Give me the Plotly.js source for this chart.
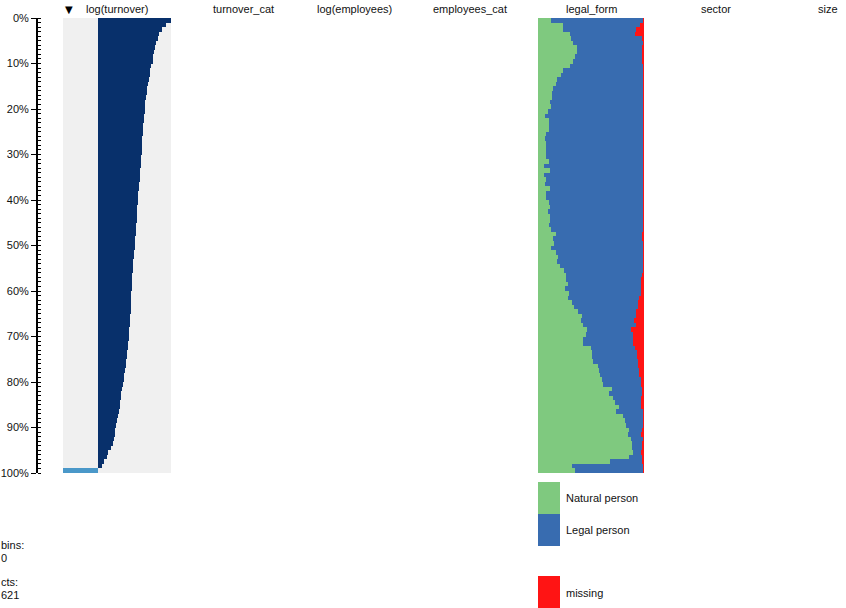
<!DOCTYPE html>
<html>
<head>
<meta charset="utf-8">
<script src="https://cdn.plot.ly/plotly-3.0.1.min.js"></script>
<style>html,body{margin:0;padding:0;background:#fff;}#chart{width:846px;height:608px;}</style>
</head>
<body>
<div id="chart"></div>
<script>
// ---- data (100 row bins, sorted by log(turnover)) ----
var binIndex = [];
for (var k = 1; k <= 100; k++) binIndex.push(k - 0.5);

var logTurnover = [7.30,6.77,6.37,6.10,5.95,5.83,5.72,5.62,5.53,5.45,
  5.32,5.23,5.15,5.06,4.99,4.92,4.85,4.79,4.74,4.69,
  4.65,4.61,4.57,4.53,4.50,4.47,4.44,4.41,4.38,4.35,
  4.32,4.29,4.26,4.23,4.20,4.16,4.12,4.08,4.04,4.00,
  3.97,3.94,3.91,3.88,3.85,3.82,3.79,3.76,3.73,3.70,
  3.66,3.62,3.58,3.54,3.50,3.47,3.44,3.41,3.38,3.35,
  3.33,3.31,3.29,3.27,3.25,3.22,3.19,3.16,3.13,3.10,
  3.06,3.01,2.96,2.92,2.87,2.81,2.75,2.68,2.62,2.55,
  2.48,2.41,2.33,2.27,2.21,2.15,2.08,2.00,1.90,1.80,
  1.74,1.68,1.57,1.45,1.30,1.00,0.85,0.60,0.37,-3.5];

var legalNatural = [12,23.6,24,30,31,33,36.5,37,35,33,
  30,24,22,17.6,17,14,13,13,11,12,
  9,6.6,10,10,10.4,8,6.6,8,7.5,8,
  7.5,10,5.7,11,5.7,8,6.6,11,7.5,7.5,
  10,11,9.6,11,11,10,12,17,14,15,
  12,17,19,18,21,24.5,26.4,26,28.6,25.5,
  29,28,31.8,34,37.4,41.8,41,42,46,45,
  42.7,42.7,50,51,50.6,51.6,57,57.8,58.5,60.4,
  61.6,69.5,67,70.4,72.6,76,74,80,82.4,83,
  85.5,84.6,87.7,88.4,88.4,89.3,85.8,68,32,35];

var legalMissing = [0.5,3.8,7.5,8.5,2,1,2,1.6,2,1.5,
  0.5,0.5,0.6,1,0.8,0.5,0.8,0.5,0.8,0.6,
  0.8,0.5,0.5,0.8,1,0.5,0.8,1.2,0.5,0.5,
  0.5,1.2,0.5,0.6,0.5,0.5,0.8,0.5,0.5,1,
  1.2,0.8,0.5,0.8,1.2,0.8,1.2,1.5,1.5,1.2,
  1,1,0.8,0.8,1,1.2,2,3,3,3,
  3,4.4,6,6,8,8,9.7,8,12.3,10,
  10,10,8.5,7,7,6,5.7,5,4.4,3,
  3,1.6,1.6,3,3,2.5,1,1,1,1,
  1.6,2.8,1,1.6,1.6,3,2,1.6,1,0.5];

var legalPerson = legalNatural.map(function (g, i) { return 100 - g - legalMissing[i]; });

var columnNames = ["log(turnover)", "turnover_cat", "log(employees)", "employees_cat", "legal_form", "sector", "size"];
var columnCenters = [117, 243, 354, 470, 591, 716, 828];
var legendLabels = ["Natural person", "Legal person", "missing"];
var legendColors = ["#7fc97f", "#386cb0", "#ff1414"];
var infoLines = ["bins:", "0", "cts:", "621"];

// ---- layout helpers (pixel -> paper) ----
var W = 846, H = 608, T = 18, B = 135, PH = H - T - B;
function px(x) { return x / W; }
function py(y) { return (H - B - y) / PH; }

var darkBlue = "#08306b", lightBlue = "#4a98c9";
var turnColors = logTurnover.map(function (v) { return v < 0 ? lightBlue : darkBlue; });

var traces = [
  {type: "bar", orientation: "h", x: logTurnover, y: binIndex, width: 1,
   xaxis: "x", yaxis: "y", marker: {color: turnColors, line: {width: 0}},
   hoverinfo: "x+y", showlegend: false},
  {type: "bar", orientation: "h", x: legalNatural, y: binIndex, base: 0, width: 1,
   xaxis: "x2", yaxis: "y", marker: {color: legendColors[0], line: {width: 0}},
   name: legendLabels[0], showlegend: false},
  {type: "bar", orientation: "h", x: legalPerson, y: binIndex, base: legalNatural, width: 1,
   xaxis: "x2", yaxis: "y", marker: {color: legendColors[1], line: {width: 0}},
   name: legendLabels[1], showlegend: false},
  {type: "bar", orientation: "h", x: legalMissing, y: binIndex,
   base: legalNatural.map(function (g, i) { return g + legalPerson[i]; }), width: 1,
   xaxis: "x2", yaxis: "y", marker: {color: legendColors[2], line: {width: 0}},
   name: legendLabels[2], showlegend: false}
];

var font = {family: "Liberation Sans, Arial, sans-serif", size: 11, color: "#111"};
var annotations = [];
columnNames.forEach(function (n, i) {
  annotations.push({text: n, x: px(columnCenters[i]), y: py(9), xref: "paper", yref: "paper",
    xanchor: "center", yanchor: "middle", showarrow: false, font: font});
});
annotations.push({text: "▼", x: px(69), y: py(9), xref: "paper", yref: "paper",
  xanchor: "center", yanchor: "middle", showarrow: false,
  font: {family: "DejaVu Sans", size: 10, color: "#000"}});

var legendY = [498, 530, 593];
var legendBoxes = [[482, 514], [514, 546], [576, 608]];
var shapes = [
  {type: "rect", xref: "x domain", yref: "y domain", x0: 0, x1: 1, y0: 0, y1: 1,
   fillcolor: "#f0f0f0", line: {width: 0}, layer: "below"}
];
legendLabels.forEach(function (lab, i) {
  shapes.push({type: "rect", xref: "paper", yref: "paper",
    x0: px(538), x1: px(560), y0: py(legendBoxes[i][1]), y1: py(legendBoxes[i][0]),
    fillcolor: legendColors[i], line: {width: 0}});
  annotations.push({text: lab, x: px(564), y: py(legendY[i]), xref: "paper", yref: "paper",
    xanchor: "left", yanchor: "middle", showarrow: false, font: font});
});

var infoY = [545, 558, 582, 595];
infoLines.forEach(function (t, i) {
  annotations.push({text: t, x: 0, y: py(infoY[i]), xref: "paper", yref: "paper",
    xanchor: "left", yanchor: "middle", showarrow: false, font: font, xshift: -1});
});

var layout = {
  width: W, height: H,
  margin: {l: 0, r: 0, t: T, b: B, pad: 0},
  paper_bgcolor: "#fff", plot_bgcolor: "rgba(0,0,0,0)",
  barmode: "overlay", bargap: 0,
  showlegend: false,
  font: font,
  xaxis: {domain: [px(63), px(171)], range: [-3.5, 7.3], visible: false, fixedrange: true, anchor: "y"},
  xaxis2: {domain: [px(538), px(644)], range: [0, 100], visible: false, fixedrange: true, anchor: "y"},
  yaxis: {range: [100, 0], anchor: "free", position: px(37), showgrid: false, zeroline: false,
    showline: true, linecolor: "#000", linewidth: 2,
    ticks: "outside", ticklen: 5, tickwidth: 1, tickcolor: "#000",
    dtick: 10, tick0: 0, ticksuffix: "%",
    tickfont: {family: "Liberation Sans, Arial, sans-serif", size: 11, color: "#111"},
    minor: {dtick: 1, ticks: "inside", ticklen: 3, tickwidth: 1, tickcolor: "#000", showgrid: false},
    fixedrange: true},
  shapes: shapes,
  annotations: annotations
};

Plotly.newPlot("chart", traces, layout, {displayModeBar: false, staticPlot: true});
</script>
</body>
</html>
